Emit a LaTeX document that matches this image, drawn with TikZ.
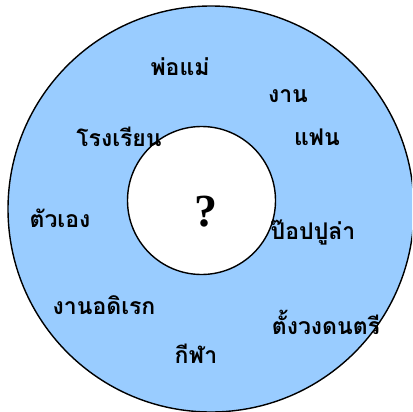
\documentclass[tikz,border=0pt]{standalone}
\usepackage{fontspec}
\newfontfamily\thaifont[Script=Thai]{Loma}
\newfontfamily\qfont{Liberation Serif}
\usepackage{tikz}
\definecolor{ringblue}{RGB}{153,204,255}

\begin{document}
\begin{tikzpicture}[x=1pt, y=-1pt,
  ring/.style={draw=black, line width=1.4pt},
  word/.style={font=\thaifont\bfseries\fontsize{23}{23}\selectfont, inner sep=0pt}]
 \useasboundingbox (0,0) rectangle (412,412);
 \clip (0,0) rectangle (412,412);

 % Rings
 \draw[ring, fill=ringblue] (211,209) circle[radius=203pt];
 \draw[ring, fill=white] (201.5,200.5) circle[radius=74pt];

 % Centre
 \node[inner sep=0pt, font=\qfont\bfseries\fontsize{46}{46}\selectfont] (quest) at (206,212) {?};

 % Words round the ring
 \node[word] (parents) at (180,67) {พ่อแม่};
 \node[word] (work) at (288,96) {งาน};
 \node[word] (school) at (119,137) {โรงเรียน};
 \node[word] (partner) at (317,137) {แฟน};
 \node[word] (self) at (60,218) {ตัวเอง};
 \node[word] (popular) at (313,233) {ป๊อปปูล่า};
 \node[word] (hobby) at (104,305) {งานอดิเรก};
 \node[word] (band) at (326,322) {ตั้งวงดนตรี};
 \node[word] (sport) at (196,354) {กีฬา};
\end{tikzpicture}
\end{document}
